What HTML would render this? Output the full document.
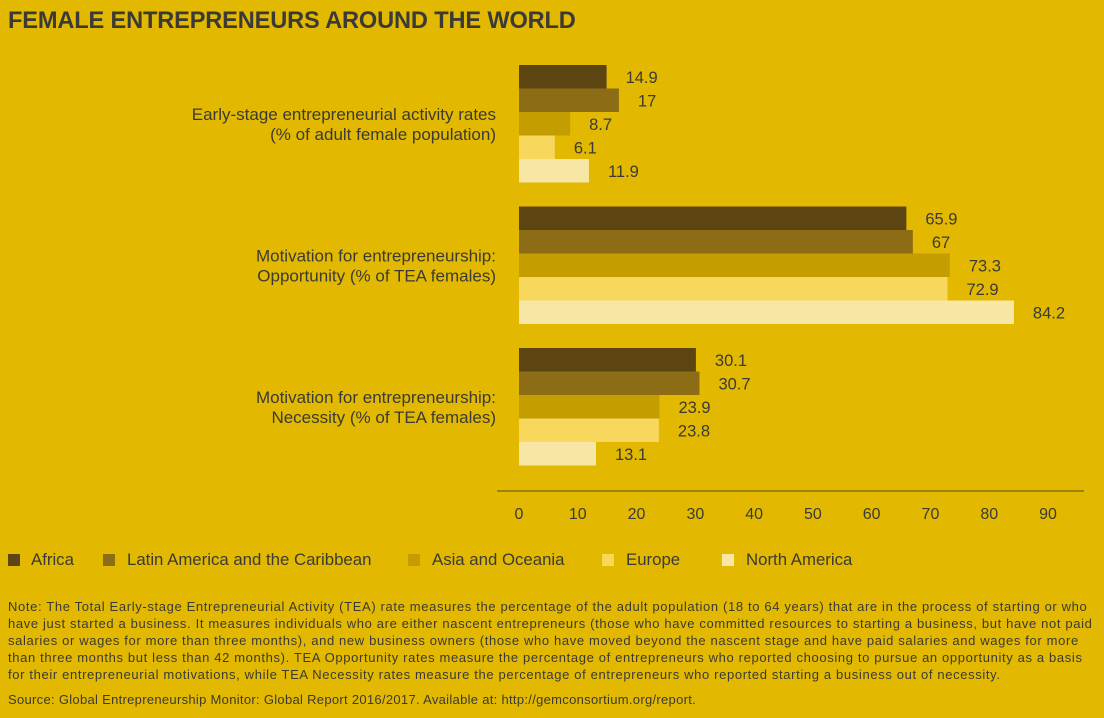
<!DOCTYPE html>
<html><head><meta charset="utf-8"><style>
body{margin:0;width:1104px;height:718px;background:#e2b900;font-family:"Liberation Sans",sans-serif;color:#3b3a36;overflow:hidden;position:relative}
.t{position:absolute;white-space:nowrap}
</style></head><body>
<div class="t" style="left:8px;top:8px;font-size:23.6px;font-weight:bold;letter-spacing:-0.15px">FEMALE ENTREPRENEURS AROUND THE WORLD</div>
<svg id="chart" width="1104" height="540" style="position:absolute;left:0;top:0"></svg>
<div id="legend"></div>
<div class="t" style="left:8px;top:598px;font-size:13px;letter-spacing:0.64px;line-height:17px;white-space:normal;width:1094px">Note: The Total Early-stage Entrepreneurial Activity (TEA) rate measures the percentage of the adult population (18 to 64 years) that are in the process of starting or who have just started a business. It measures individuals who are either nascent entrepreneurs (those who have committed resources to starting a business, but have not paid salaries or wages for more than three months), and new business owners (those who have moved beyond the nascent stage and have paid salaries and wages for more than three months but less than 42 months). TEA Opportunity rates measure the percentage of entrepreneurs who reported choosing to pursue an opportunity as a basis for their entrepreneurial motivations, while TEA Necessity rates measure the percentage of entrepreneurs who reported starting a business out of necessity.</div>
<div class="t" style="left:8px;top:692px;font-size:13px;letter-spacing:0.3px">Source: Global Entrepreneurship Monitor: Global Report 2016/2017. Available at: http://gemconsortium.org/report.</div>
<script>
const categories=[["Early-stage entrepreneurial activity rates","(% of adult female population)"],["Motivation for entrepreneurship:","Opportunity (% of TEA females)"],["Motivation for entrepreneurship:","Necessity (% of TEA females)"]];
const seriesNames=["Africa","Latin America and the Caribbean","Asia and Oceania","Europe","North America"];
const africa=[14.9,65.9,30.1];
const latam=[17,67,30.7];
const asia=[8.7,73.3,23.9];
const europe=[6.1,72.9,23.8];
const namerica=[11.9,84.2,13.1];
const ticks=[0,10,20,30,40,50,60,70,80,90];
const series=[africa,latam,asia,europe,namerica];
const colors=["#5c4511","#8c6c15","#c49d00","#f7d75c","#f7e6a4"];
const NS="http://www.w3.org/2000/svg";
const svg=document.getElementById('chart');
const x=v=>519+v*5.878;
const gy=i=>65+i*141.5, bh=23.5;
function mk(tag,attrs,txt){const e=document.createElementNS(NS,tag);for(const k in attrs)e.setAttribute(k,attrs[k]);if(txt!==undefined)e.textContent=txt;svg.appendChild(e);return e;}
categories.forEach((c,i)=>{
  const cy=gy(i)+bh*2.5;
  c.forEach((line,j)=>{const t=mk('text',{x:496,y:cy-4+j*20,'text-anchor':'end','font-size':17,fill:'#3b3a36'},line);
  
  });
  series.forEach((s,k)=>{
    const y=gy(i)+k*bh;
    const r=mk('rect',{x:x(0),y:y,width:x(s[i])-x(0),height:bh,fill:colors[k]});
    
    
    const t=mk('text',{x:x(s[i])+19,y:y+bh/2+6,'font-size':16.5,fill:'#3b3a36'},String(s[i]));
    
    
  });
});
const ax=mk('line',{x1:497,x2:1084,y1:491,y2:491,stroke:'#5a4a20','stroke-width':1});


ticks.forEach(v=>{const t=mk('text',{x:x(v),y:519,'text-anchor':'middle','font-size':16,fill:'#3b3a36'},String(v));

});
const lx=[[8,31],[103,127],[408,432],[602,626],[722,746]];
const lg=document.getElementById('legend');
seriesNames.forEach((n,k)=>{
  const sq=document.createElement('div');
  sq.className='t';sq.style.cssText=`left:${lx[k][0]}px;top:554px;width:12px;height:12px;background:${colors[k]}`;
  
  
  lg.appendChild(sq);
  const tx=document.createElement('div');
  tx.className='t';tx.style.cssText=`left:${lx[k][1]}px;top:550px;font-size:16.8px`;tx.textContent=n;
  
  
  lg.appendChild(tx);
});
</script>
</body></html>
